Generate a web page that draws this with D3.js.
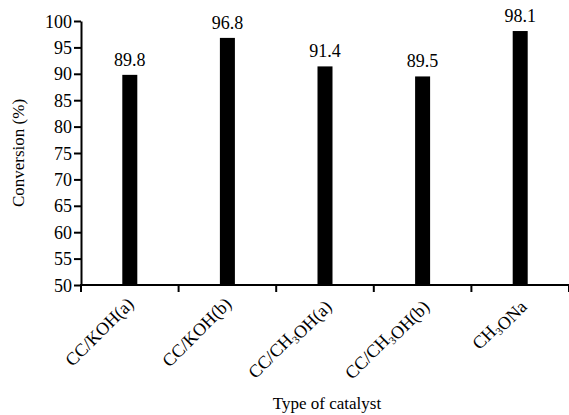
<!DOCTYPE html>
<html><head><meta charset="utf-8">
<script src="https://cdn.jsdelivr.net/npm/d3@7"></script>
<style>body{margin:0;background:#fff}svg{display:block}</style>
</head><body>
<svg id="c" width="569" height="415" font-family="Liberation Serif"></svg>
<script>
const categories = ["CC/KOH(a)", "CC/KOH(b)", "CC/CH3OH(a)", "CC/CH3OH(b)", "CH3ONa"];
const values = [89.8, 96.8, 91.4, 89.5, 98.1];
const yTicks = [50, 55, 60, 65, 70, 75, 80, 85, 90, 95, 100];
const yTitle = "Conversion (%)";
const xTitle = "Type of catalyst";
const FONT = "Liberation Serif";

const svg = d3.select("#c");
const L = 81, R = 569, T = 21, B = 285;
const x = d3.scaleBand().domain(categories).range([L, R]).paddingInner(0).paddingOuter(0);
const y = d3.scaleLinear().domain([50, 100]).range([B, T]);

// bars
svg.selectAll("rect.bar").data(values).join("rect")
  .attr("x", (d, i) => x(categories[i]) + x.bandwidth() / 2 - 7.5)
  .attr("width", 15)
  .attr("y", d => y(d))
  .attr("height", d => B - y(d))
  .attr("fill", "#000");

// value labels
svg.selectAll("text.val").data(values).join("text")
  .attr("x", (d, i) => x(categories[i]) + x.bandwidth() / 2)
  .attr("y", d => y(d) - 9)
  .attr("text-anchor", "middle")
  .attr("font-family", FONT)
  .attr("font-size", 18)
  .attr("fill", "#000")
  .text(d => d.toFixed(1));

// y axis
const ya = svg.append("g").attr("transform", `translate(${L},0)`)
  .call(d3.axisLeft(y).tickValues(yTicks).tickSize(7).tickPadding(2).tickSizeOuter(0));
ya.attr("font-family", FONT).attr("font-size", 18);
ya.selectAll("text").attr("font-family", FONT).attr("font-size", 18).attr("fill", "#000").attr("dy", "0.34em");
ya.selectAll("line,path").attr("stroke", "#000").attr("stroke-width", 2);

// x axis with ticks at band boundaries
const xa = svg.append("g").attr("transform", `translate(0,${B})`);
xa.append("line").attr("x1", L - 1).attr("x2", R).attr("stroke", "#000").attr("stroke-width", 2);
const bounds = categories.map(c => x(c)).concat([R]);
xa.selectAll("line.t").data(bounds).join("line")
  .attr("x1", d => d).attr("x2", d => d).attr("y1", 0).attr("y2", 7)
  .attr("stroke", "#000").attr("stroke-width", 2);

// rotated category labels with subscript
categories.forEach((c, i) => {
  const cx = x(c) + x.bandwidth() / 2 + 5;
  const t = svg.append("text")
    .attr("transform", `translate(${cx},${B + 20}) rotate(-45)`)
    .attr("text-anchor", "end")
    .attr("font-family", FONT)
    .attr("font-size", 18)
    .attr("fill", "#000");
  const parts = c.split(/(3)/);
  parts.forEach(p => {
    if (p === "3") {
      t.append("tspan").attr("font-size", 11).attr("dy", 4).text("3");
      t.append("tspan").attr("dy", -4).text("");
    } else if (p.length) {
      t.append("tspan").text(p);
    }
  });
});

// titles
svg.append("text").attr("transform", `translate(24,${(T + B) / 2}) rotate(-90)`)
  .attr("text-anchor", "middle").attr("font-family", FONT).attr("font-size", 17).attr("fill", "#000").text(yTitle);
svg.append("text").attr("x", 327).attr("y", 409)
  .attr("text-anchor", "middle").attr("font-family", FONT).attr("font-size", 17).attr("fill", "#000").text(xTitle);
</script>
</body></html>
